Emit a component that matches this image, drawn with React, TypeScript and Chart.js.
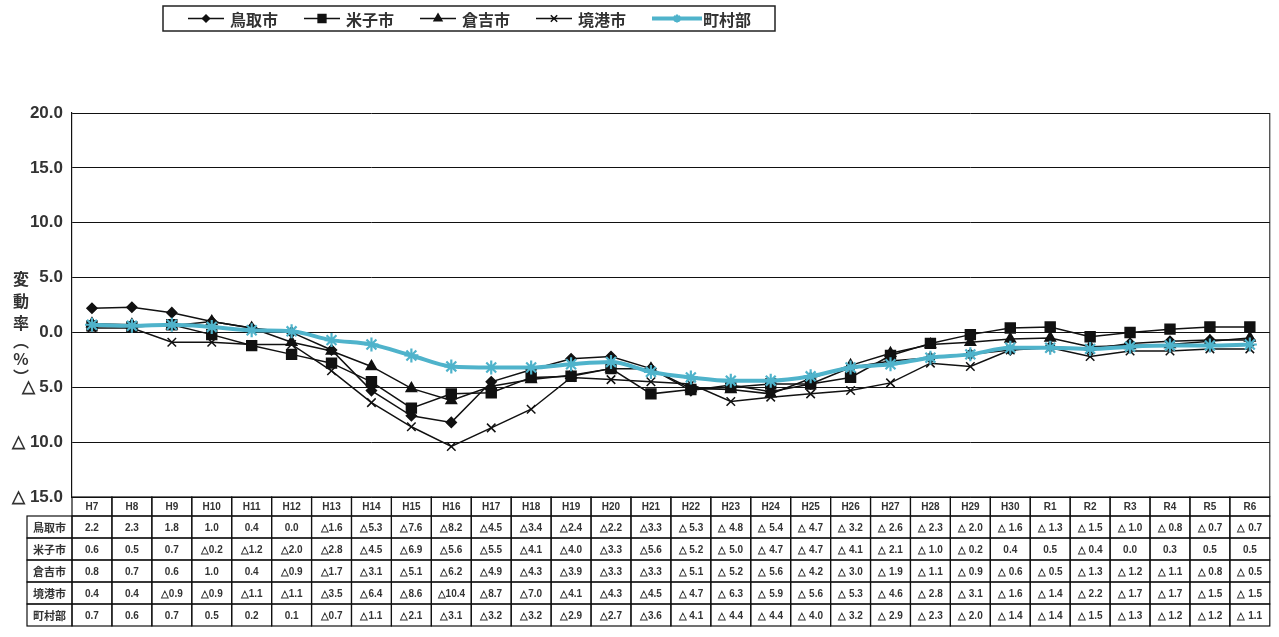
import React, { useEffect, useRef } from "react";
import { Chart, registerables } from "chart.js";
import { drawPoint } from "chart.js/helpers";

Chart.register(...registerables);

const categories = [
  "H7", "H8", "H9", "H10", "H11", "H12", "H13", "H14", "H15", "H16",
  "H17", "H18", "H19", "H20", "H21", "H22", "H23", "H24", "H25", "H26",
  "H27", "H28", "H29", "H30", "R1", "R2", "R3", "R4", "R5", "R6",
];

const tottori = [2.2, 2.3, 1.8, 1.0, 0.4, 0.0, -1.6, -5.3, -7.6, -8.2, -4.5, -3.4, -2.4, -2.2, -3.3, -5.3, -4.8, -5.4, -4.7, -3.2, -2.6, -2.3, -2.0, -1.6, -1.3, -1.5, -1.0, -0.8, -0.7, -0.7];
const yonago = [0.6, 0.5, 0.7, -0.2, -1.2, -2.0, -2.8, -4.5, -6.9, -5.6, -5.5, -4.1, -4.0, -3.3, -5.6, -5.2, -5.0, -4.7, -4.7, -4.1, -2.1, -1.0, -0.2, 0.4, 0.5, -0.4, 0.0, 0.3, 0.5, 0.5];
const kurayoshi = [0.8, 0.7, 0.6, 1.0, 0.4, -0.9, -1.7, -3.1, -5.1, -6.2, -4.9, -4.3, -3.9, -3.3, -3.3, -5.1, -5.2, -5.6, -4.2, -3.0, -1.9, -1.1, -0.9, -0.6, -0.5, -1.3, -1.2, -1.1, -0.8, -0.5];
const sakaiminato = [0.4, 0.4, -0.9, -0.9, -1.1, -1.1, -3.5, -6.4, -8.6, -10.4, -8.7, -7.0, -4.1, -4.3, -4.5, -4.7, -6.3, -5.9, -5.6, -5.3, -4.6, -2.8, -3.1, -1.6, -1.4, -2.2, -1.7, -1.7, -1.5, -1.5];
const chosonbu = [0.7, 0.6, 0.7, 0.5, 0.2, 0.1, -0.7, -1.1, -2.1, -3.1, -3.2, -3.2, -2.9, -2.7, -3.6, -4.1, -4.4, -4.4, -4.0, -3.2, -2.9, -2.3, -2.0, -1.4, -1.4, -1.5, -1.3, -1.2, -1.2, -1.1];

const seriesNames = ["鳥取市", "米子市", "倉吉市", "境港市", "町村部"];
const seriesValues = [tottori, yonago, kurayoshi, sakaiminato, chosonbu];
const pointStyles = ["rectRot", "rect", "triangle", "crossRot", "star"];
const pointRadii = [5, 7, 6, 6, 7];

const yAxisTitle = ["変", "動", "率", "︵", "%", "︶"];
const yMin = -15;
const yMax = 20;
const yStep = 5;

const BLACK = "#111111";
const CYAN = "#4fb3cb";
const TEXT = "#333333";

function fmtTick(v: number): string {
  if (v < 0) return "△ " + Math.abs(v).toFixed(1);
  return v.toFixed(1);
}

function fmtCell(v: number, i: number): string {
  if (v < 0) return (i >= 15 ? "△ " : "△") + Math.abs(v).toFixed(1);
  return v.toFixed(1);
}

const tablePlugin = {
  id: "dataTable",
  afterDraw(chart: any) {
    const { ctx, chartArea } = chart;
    const x = chart.scales.x;
    const colW = x.getPixelForValue(1) - x.getPixelForValue(0);
    const top = chartArea.bottom;
    const headH = 19;
    const rowH = 22;
    const labelLeft = 27;
    ctx.save();
    ctx.strokeStyle = BLACK;
    ctx.lineWidth = 1.2;
    ctx.font = "bold 10px 'Liberation Sans', Arial, sans-serif";
    ctx.textAlign = "center";
    ctx.textBaseline = "middle";
    categories.forEach((c, i) => {
      const cx = x.getPixelForValue(i);
      ctx.strokeRect(cx - colW / 2, top, colW, headH);
      ctx.fillStyle = TEXT;
      ctx.fillText(c, cx, top + headH / 2 + 1);
    });
    seriesNames.forEach((name, r) => {
      const ry = top + headH + r * rowH;
      ctx.strokeRect(labelLeft, ry, chartArea.left - labelLeft, rowH);
      ctx.fillStyle = TEXT;
      ctx.font = "bold 11px 'Noto Sans CJK JP', sans-serif";
      ctx.fillText(name, (labelLeft + chartArea.left) / 2, ry + rowH / 2 + 1);
      ctx.font = "bold 10px 'Liberation Sans', Arial, sans-serif";
      seriesValues[r].forEach((v, i) => {
        const cx = x.getPixelForValue(i);
        ctx.strokeRect(cx - colW / 2, ry, colW, rowH);
        ctx.fillText(fmtCell(v, i), cx, ry + rowH / 2 + 1);
      });
    });
    ctx.lineWidth = 1;
    ctx.beginPath();
    ctx.moveTo(chartArea.right, chartArea.top);
    ctx.lineTo(chartArea.right, chartArea.bottom);
    ctx.stroke();
    ctx.restore();
  },
};

const legendPlugin = {
  id: "boxLegend",
  afterDraw(chart: any) {
    const { ctx } = chart;
    const boxL = 163;
    const boxR = 775;
    const boxT = 6;
    const boxB = 31;
    const midY = (boxT + boxB) / 2;
    ctx.save();
    ctx.fillStyle = "#ffffff";
    ctx.fillRect(boxL, boxT, boxR - boxL, boxB - boxT);
    ctx.strokeStyle = "#222";
    ctx.lineWidth = 1.5;
    ctx.strokeRect(boxL, boxT, boxR - boxL, boxB - boxT);
    ctx.font = "bold 16px 'Noto Sans CJK JP', sans-serif";
    ctx.textBaseline = "middle";
    ctx.textAlign = "left";
    let cx = boxL + 25;
    chart.data.datasets.forEach((ds: any, i: number) => {
      const isCyan = i === 4;
      const lineLen = isCyan ? 50 : 36;
      ctx.strokeStyle = ds.borderColor;
      ctx.lineWidth = ds.borderWidth;
      ctx.beginPath();
      ctx.moveTo(cx, midY);
      ctx.lineTo(cx + lineLen, midY);
      ctx.stroke();
      ctx.fillStyle = ds.pointBackgroundColor;
      ctx.strokeStyle = ds.pointBorderColor;
      ctx.lineWidth = ds.pointBorderWidth;
      drawPoint(ctx, {
        pointStyle: ds.pointStyle,
        radius: isCyan ? 4 : ds.pointRadius - 1.5,
        rotation: 0,
        borderWidth: ds.pointBorderWidth,
      }, cx + lineLen / 2, midY);
      cx += lineLen + (isCyan ? 1 : 6);
      ctx.fillStyle = TEXT;
      ctx.fillText(ds.label, cx, midY + 1);
      cx += ctx.measureText(ds.label).width + 26;
    });
    ctx.restore();
  },
};

const yTitlePlugin = {
  id: "yTitleVertical",
  afterDraw(chart: any) {
    const { ctx } = chart;
    ctx.save();
    ctx.fillStyle = TEXT;
    ctx.font = "bold 16px 'Noto Sans CJK JP', sans-serif";
    ctx.textAlign = "center";
    ctx.textBaseline = "middle";
    let y = 279;
    yAxisTitle.forEach((ch) => {
      const isParen = ch === "︵" || ch === "︶";
      if (isParen) {
        y -= 4;
      }
      ctx.fillText(ch, 21, y);
      y += isParen ? 18 : 22;
    });
    ctx.restore();
  },
};

export default function App() {
  const ref = useRef<HTMLCanvasElement | null>(null);
  useEffect(() => {
    if (!ref.current) return;
    const datasets = seriesNames.map((name, i) => {
      const isCyan = i === 4;
      return {
        label: name,
        data: seriesValues[i],
        borderColor: isCyan ? CYAN : BLACK,
        backgroundColor: isCyan ? CYAN : BLACK,
        borderWidth: isCyan ? 4 : 1.5,
        pointStyle: pointStyles[i],
        pointRadius: pointRadii[i],
        pointBackgroundColor: isCyan ? CYAN : BLACK,
        pointBorderColor: isCyan ? CYAN : BLACK,
        pointBorderWidth: isCyan ? 2.2 : 1.5,
        tension: isCyan ? 0.4 : 0,
        cubicInterpolationMode: isCyan ? "monotone" : "default",
        order: isCyan ? 0 : 1,
        fill: false,
      };
    });
    const chart = new Chart(ref.current, {
      type: "line",
      data: { labels: categories, datasets: datasets as any },
      options: {
        animation: false,
        responsive: true,
        maintainAspectRatio: false,
        layout: { padding: { left: 0, right: 7, top: 113, bottom: 140 } },
        plugins: {
          legend: { display: false },
          tooltip: { enabled: false },
          title: { display: false },
        },
        scales: {
          x: {
            type: "category",
            offset: true,
            display: false,
          },
          y: {
            min: yMin,
            max: yMax,
            afterFit(scale: any) {
              scale.width = 72;
            },
            ticks: {
              stepSize: yStep,
              callback: (v: any) => fmtTick(Number(v)),
              color: TEXT,
              font: { family: "'Liberation Sans', Arial, sans-serif", size: 17, weight: "bold" },
              padding: 9,
            },
            grid: { color: BLACK, lineWidth: 1, drawTicks: false },
            border: { display: true, color: BLACK, width: 1.2 },
          },
        },
      },
      plugins: [tablePlugin, legendPlugin, yTitlePlugin],
    });
    return () => chart.destroy();
  }, []);
  return (
    <div style={{ position: "absolute", left: 0, top: 0, width: 1279, height: 637, background: "#fff" }}>
      <canvas ref={ref} />
    </div>
  );
}
